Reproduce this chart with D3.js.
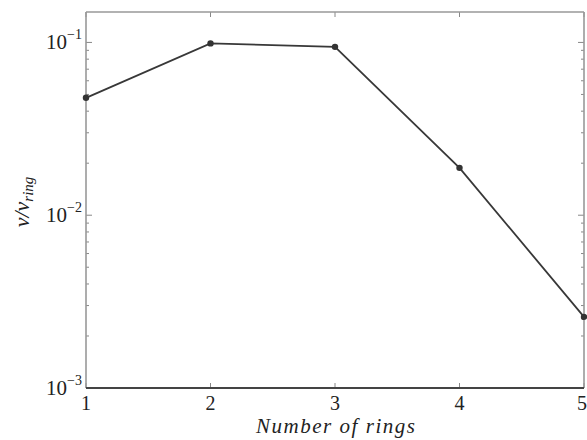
<!DOCTYPE html>
<html>
<head>
<meta charset="utf-8">
<script src="https://cdn.jsdelivr.net/npm/d3@7"></script>
<style>
  body { margin: 0; background: #fff; }
  text { font-family: "Liberation Serif", "DejaVu Serif", serif; fill: #222; }
</style>
</head>
<body>
<svg id="chart" width="587" height="440"></svg>
<script>
// Velocity ratio against number of rings
const rings = [1, 2, 3, 4, 5];
const ratio = [0.0478, 0.0987, 0.0943, 0.0188, 0.00258];
const yTickValues = [1e-3, 1e-2, 1e-1];
const yTickExponents = ["\u22123", "\u22122", "\u22121"];
const xTickValues = [1, 2, 3, 4, 5];

const svg = d3.select("#chart");
const pl = 86, pr = 584, pt = 12, pb = 388;

const x = d3.scaleLinear().domain([1, 5]).range([pl, pr]);
const y = d3.scaleLog().domain([1e-3, 0.15]).range([pb, pt]);

// minor ticks on left and right edges
const minors = [];
for (let e = -3; e <= -1; e++) {
  for (let m = 2; m <= 9; m++) {
    const v = m * Math.pow(10, e);
    if (v <= 0.15) minors.push(v);
  }
}
const tickG = svg.append("g").attr("stroke", "#888").attr("stroke-width", 1);
minors.forEach(v => {
  tickG.append("line").attr("x1", pl).attr("x2", pl + 3).attr("y1", y(v)).attr("y2", y(v));
  tickG.append("line").attr("x1", pr).attr("x2", pr - 3).attr("y1", y(v)).attr("y2", y(v));
});
yTickValues.forEach(v => {
  tickG.append("line").attr("x1", pl).attr("x2", pl + 6).attr("y1", y(v)).attr("y2", y(v));
  tickG.append("line").attr("x1", pr).attr("x2", pr - 6).attr("y1", y(v)).attr("y2", y(v));
});
xTickValues.forEach(v => {
  tickG.append("line").attr("x1", x(v)).attr("x2", x(v)).attr("y1", pb).attr("y2", pb - 5);
  tickG.append("line").attr("x1", x(v)).attr("x2", x(v)).attr("y1", pt).attr("y2", pt + 5);
});

// frame
const frame = svg.append("g").attr("stroke", "#999").attr("stroke-width", 1.6);
frame.append("line").attr("x1", pl).attr("x2", pr).attr("y1", pt).attr("y2", pt);
frame.append("line").attr("x1", pl).attr("x2", pl).attr("y1", pt).attr("y2", pb);
frame.append("line").attr("x1", pr).attr("x2", pr).attr("y1", pt).attr("y2", pb);
svg.append("line").attr("x1", pl).attr("x2", pr).attr("y1", pb).attr("y2", pb)
  .attr("stroke", "#444").attr("stroke-width", 2);

// y tick labels 10^n
yTickValues.forEach((v, i) => {
  const t = svg.append("text").attr("x", pl - 4).attr("y", y(v) + 7)
    .attr("text-anchor", "end").attr("font-size", 21);
  t.append("tspan").text("10");
  t.append("tspan").attr("dy", -10).attr("font-size", 14).text(yTickExponents[i]);
});

// x tick labels (last one kept inside the canvas)
xTickValues.forEach((v, i) => {
  const last = i === xTickValues.length - 1;
  svg.append("text").attr("x", last ? 587 : x(v)).attr("y", pb + 22)
    .attr("text-anchor", last ? "end" : "middle").attr("font-size", 20).text(v);
});

// axis titles
svg.append("text").attr("x", 256).attr("y", 433)
  .attr("font-size", 21).attr("font-style", "italic")
  .attr("textLength", 159).attr("lengthAdjust", "spacing").text("Number of rings");

const yl = svg.append("text").attr("transform", "translate(29,202) rotate(-90)")
  .attr("text-anchor", "middle").attr("font-size", 22).attr("font-style", "italic");
yl.append("tspan").text("v/v");
yl.append("tspan").attr("dy", 4).attr("font-size", 15).text("ring");

// data line and markers
const line = d3.line().x((d, i) => x(rings[i])).y(d => y(d));
svg.append("path").datum(ratio).attr("d", line)
  .attr("fill", "none").attr("stroke", "#383838").attr("stroke-width", 1.8);
svg.selectAll("circle.pt").data(ratio).enter().append("circle")
  .attr("class", "pt").attr("cx", (d, i) => x(rings[i])).attr("cy", d => y(d))
  .attr("r", 3.2).attr("fill", "#333");
</script>
</body>
</html>
